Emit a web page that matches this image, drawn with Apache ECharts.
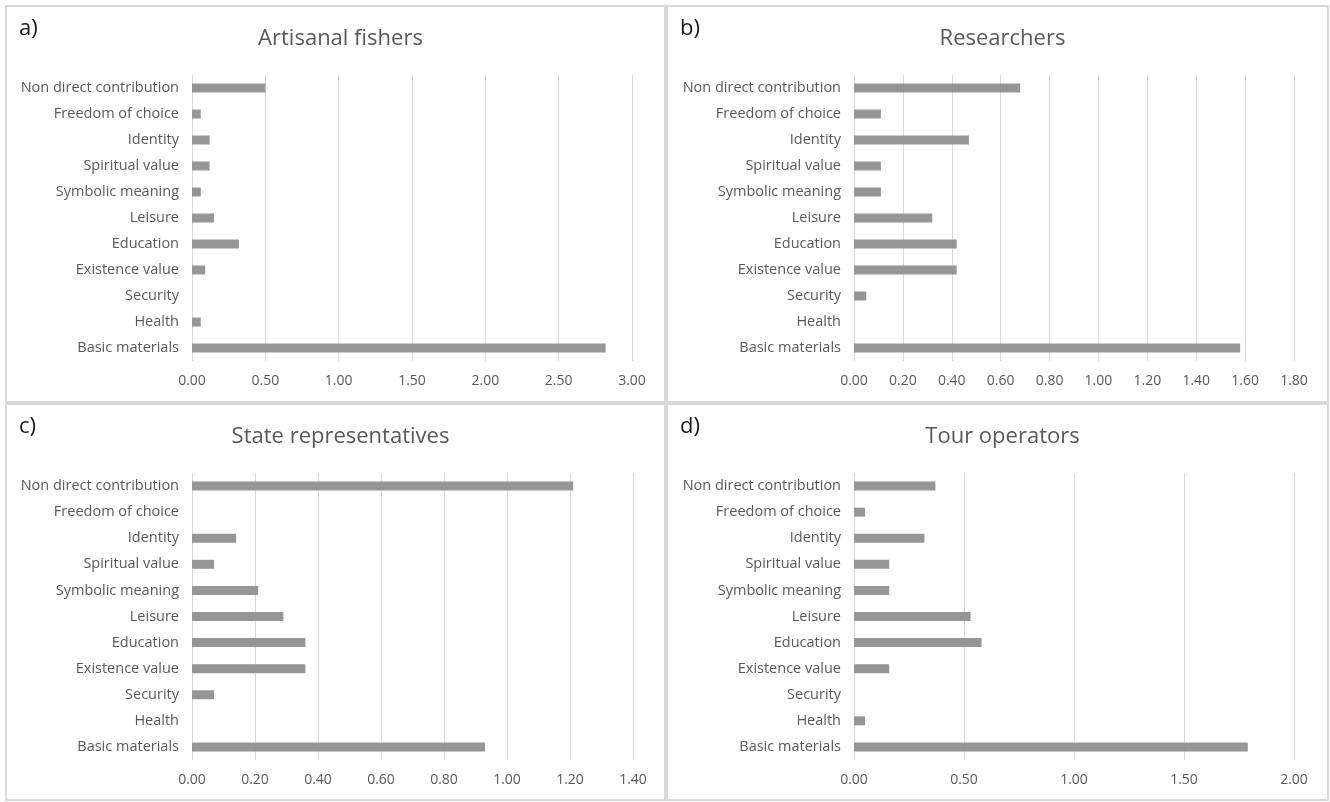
<!DOCTYPE html>
<html>
<head>
<meta charset="utf-8">
<script src="https://cdn.jsdelivr.net/npm/echarts@6/dist/echarts.min.js"></script>
<style>
html,body{margin:0;padding:0;background:#fff;}
#chart{width:1330px;height:802px;}
</style>
</head>
<body>
<div id="chart"></div>
<script>
const categories = ['Basic materials','Health','Security','Existence value','Education','Leisure','Symbolic meaning','Spiritual value','Identity','Freedom of choice','Non direct contribution'];
const panelLetters = ['a)','b)','c)','d)'];
const panelTitles = ['Artisanal fishers','Researchers','State representatives','Tour operators'];
const artisanalFishers = [2.82, 0.06, 0, 0.09, 0.32, 0.15, 0.06, 0.12, 0.12, 0.06, 0.50];
const researchers = [1.58, 0, 0.05, 0.42, 0.42, 0.32, 0.11, 0.11, 0.47, 0.11, 0.68];
const stateRepresentatives = [0.93, 0, 0.07, 0.36, 0.36, 0.29, 0.21, 0.07, 0.14, 0, 1.21];
const tourOperators = [1.79, 0.05, 0, 0.16, 0.58, 0.53, 0.16, 0.16, 0.32, 0.05, 0.37];
const axisMax = [3, 1.8, 1.4, 2];
const axisInterval = [0.5, 0.2, 0.2, 0.5];

const seriesData = [artisanalFishers, researchers, stateRepresentatives, tourOperators];
const FONT = 'Open Sans';
const TXT = '#595959';
const grids = [
  {left:192, top:75, width:440, height:286},
  {left:854, top:75, width:440, height:286},
  {left:192, top:473, width:441, height:287},
  {left:854, top:473, width:440, height:287}
];
const panels = [
  {x:6,y:6,w:659,h:396},
  {x:667,y:6,w:661,h:396},
  {x:6,y:404,w:659,h:396},
  {x:667,y:404,w:661,h:396}
];
const option = {
  backgroundColor:'#fff',
  animation:false,
  title: [],
  graphic: [],
  grid: grids.map(g=>Object.assign({containLabel:false}, g)),
  xAxis: [], yAxis: [], series: []
};
for (let i=0;i<4;i++){
  const p = panels[i];
  option.graphic.push({type:'rect', shape:{x:p.x,y:p.y,width:p.w,height:p.h}, style:{fill:null, stroke:'#d9d9d9', lineWidth:2}, silent:true});
  option.graphic.push({type:'text', left:p.x+13, top:p.y+12, style:{text:panelLetters[i], font:'22px '+FONT, fill:'#1a1a1a'}});
  option.title.push({text:panelTitles[i], left:p.x + p.w/2, top:p.y+17, textAlign:'center',
    textStyle:{fontFamily:FONT, fontSize:22, fontWeight:'normal', color:TXT}});
  option.xAxis.push({type:'value', gridIndex:i, min:0, max:axisMax[i], interval:axisInterval[i],
    axisLine:{show:false}, axisTick:{show:false},
    splitLine:{show:true, lineStyle:{color:'#d9d9d9', width:1}},
    axisLabel:{formatter:v=>v.toFixed(2), color:TXT, fontFamily:FONT, fontSize:14, margin:13}});
  option.yAxis.push({type:'category', gridIndex:i, data:categories,
    axisLine:{show:false}, axisTick:{show:false},
    axisLabel:{color:TXT, fontFamily:FONT, fontSize:14.5, margin:13}});
  option.series.push({type:'bar', xAxisIndex:i, yAxisIndex:i, data:seriesData[i], barWidth:9,
    itemStyle:{color:'#969696'}, silent:true});
}
echarts.init(document.getElementById('chart')).setOption(option);
</script>
</body>
</html>
